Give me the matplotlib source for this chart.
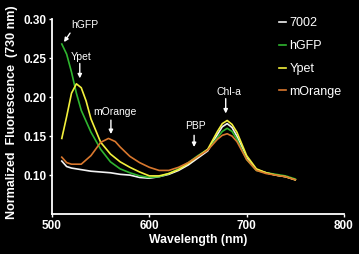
import matplotlib
matplotlib.use("Agg")
import matplotlib.pyplot as plt

wl_7002 = [510, 515, 520, 530, 540, 550, 560, 570, 580, 590, 600, 610, 620, 630, 640, 650, 660, 670, 675, 680, 685, 690, 700, 710, 720, 730, 740, 750]
v_7002 = [0.118, 0.111, 0.109, 0.107, 0.105, 0.104, 0.103, 0.101, 0.100, 0.097, 0.096, 0.098, 0.101, 0.106, 0.113, 0.122, 0.131, 0.152, 0.162, 0.166, 0.161, 0.150, 0.122, 0.107, 0.103, 0.100, 0.098, 0.094]

wl_hgfp = [510, 515, 520, 525, 530, 540, 550, 560, 570, 580, 590, 600, 610, 620, 630, 640, 650, 660, 670, 675, 680, 685, 690, 700, 710, 720, 730, 740, 750]
v_hgfp = [0.268, 0.255, 0.232, 0.205, 0.183, 0.155, 0.133, 0.117, 0.108, 0.103, 0.099, 0.097, 0.098, 0.102, 0.108, 0.116, 0.125, 0.133, 0.148, 0.156, 0.160, 0.156, 0.146, 0.120, 0.106, 0.103, 0.101, 0.099, 0.095]

wl_ypet = [510, 515, 520, 525, 530, 535, 540, 550, 560, 570, 580, 590, 600, 610, 620, 630, 640, 650, 660, 670, 675, 680, 685, 690, 700, 710, 720, 730, 740, 750]
v_ypet = [0.147, 0.175, 0.205, 0.217, 0.212, 0.195, 0.172, 0.142, 0.127, 0.117, 0.110, 0.104, 0.099, 0.099, 0.102, 0.107, 0.115, 0.124, 0.133, 0.156, 0.166, 0.170, 0.165, 0.155, 0.125, 0.108, 0.103, 0.100, 0.098, 0.094]

wl_morange = [510, 515, 520, 530, 540, 550, 558, 565, 570, 580, 590, 600, 610, 620, 630, 640, 650, 660, 670, 675, 680, 685, 690, 700, 710, 720, 730, 740, 750]
v_morange = [0.123, 0.116, 0.114, 0.114, 0.125, 0.142, 0.147, 0.143, 0.136, 0.124, 0.116, 0.110, 0.106, 0.106, 0.110, 0.116, 0.124, 0.132, 0.146, 0.151, 0.153, 0.150, 0.143, 0.120, 0.106, 0.102, 0.100, 0.098, 0.094]

series_names = ["7002", "hGFP", "Ypet", "mOrange"]
colors = ["#f2f2f2", "#2fb52f", "#f2f03c", "#d9782e"]

# (label, label position, arrow tail, arrow head)
annotations = [
    ("hGFP", (533.5, 0.293), (518.5, 0.282), (512.3, 0.2705)),
    ("Ypet", (530.0, 0.251), (528.5, 0.243), (528.5, 0.224)),
    ("mOrange", (564.6, 0.181), (560.5, 0.1705), (560.5, 0.1526)),
    ("PBP", (647.0, 0.163), (646.0, 0.151), (646.0, 0.136)),
    ("Chl-a", (681.5, 0.207), (678.5, 0.198), (678.5, 0.179)),
]

plt.rcParams['font.family'] = ['Liberation Sans', 'DejaVu Sans']

fig = plt.figure(figsize=(3.59, 2.54), dpi=100, facecolor="black")
ax = fig.add_axes([0.145, 0.157, 0.813, 0.768], facecolor="black")

data = [(wl_7002, v_7002), (wl_hgfp, v_hgfp), (wl_ypet, v_ypet), (wl_morange, v_morange)]
for (x, y), name, c in zip(data, series_names, colors):
    ax.plot(x, y, color=c, lw=1.2, label=name)

ax.set_xlim(500, 800)
ax.set_ylim(0.05, 0.30)
ax.set_xticks([500, 600, 700, 800])
ax.set_yticks([0.10, 0.15, 0.20, 0.25, 0.30])
ax.set_yticklabels(["0.10", "0.15", "0.20", "0.25", "0.30"])
for s in ["top", "right"]:
    ax.spines[s].set_visible(False)
for s in ["left", "bottom"]:
    ax.spines[s].set_color("white")
    ax.spines[s].set_linewidth(1.3)
ax.tick_params(colors="white", length=2, width=1, labelsize=8.5, pad=2)
for lab in ax.get_xticklabels() + ax.get_yticklabels():
    lab.set_fontweight("bold")
ax.set_xlabel("Wavelength (nm)", color="white", fontsize=8.8, fontweight="bold", labelpad=2)
ax.set_ylabel("Normalized  Fluorescence  (730 nm)", color="white", fontsize=9.0, fontweight="bold", labelpad=3)
ax.yaxis.set_label_coords(-0.115, 0.525)

for txt, tpos, tail, head in annotations:
    ax.text(tpos[0], tpos[1], txt, color="white", fontsize=7.5, ha="center", va="center")
    ax.annotate("", xy=head, xytext=tail,
                arrowprops=dict(arrowstyle="-|>", color="white", lw=1.0, mutation_scale=6,
                                shrinkA=0, shrinkB=0))

leg = ax.legend(loc="upper left", bbox_to_anchor=(279 / 359, 1 - 17.5 / 254),
                bbox_transform=fig.transFigure, frameon=False, handlelength=0.55,
                handletextpad=0.3, labelspacing=0.86, fontsize=9, borderpad=0,
                borderaxespad=0)
for t in leg.get_texts():
    t.set_color("white")

fig.savefig("out.png", dpi=100, facecolor="black")
